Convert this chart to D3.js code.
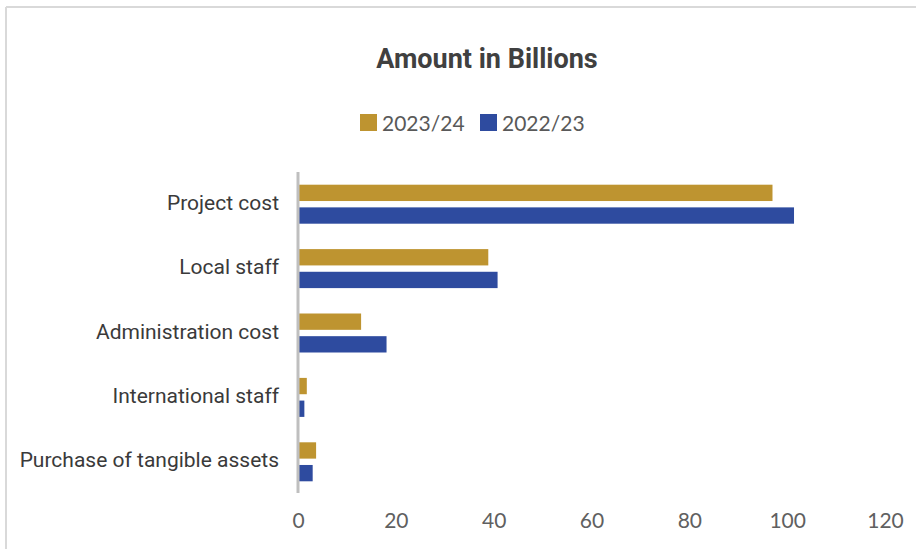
<!DOCTYPE html>
<html>
<head>
<meta charset="utf-8">
<script src="https://cdn.jsdelivr.net/npm/d3@7"></script>
<style>
  html, body { margin: 0; padding: 0; background: #ffffff; }
  svg { display: block; }
</style>
</head>
<body>
<svg id="chart" width="916" height="549"></svg>
<script>
// Spending categories, top to bottom
const categories = [
  "Project cost",
  "Local staff",
  "Administration cost",
  "International staff",
  "Purchase of tangible assets"
];
const seriesNames = ["2023/24", "2022/23"];
const values2023_24 = [97, 38.9, 12.9, 1.8, 3.7];
const values2022_23 = [101.4, 40.8, 18.1, 1.3, 3.0];
const xTicks = [0, 20, 40, 60, 80, 100, 120];
const seriesColors = ["#BE9430", "#2E4B9F"];

const svg = d3.select("#chart");
const W = 916, H = 549;

// frame lines along the top and left edge
svg.append("line").attr("x1", 6).attr("x2", W).attr("y1", 7).attr("y2", 7)
  .attr("stroke", "#d9d9d9").attr("stroke-width", 2);
svg.append("line").attr("x1", 6).attr("x2", 6).attr("y1", 7).attr("y2", H)
  .attr("stroke", "#d9d9d9").attr("stroke-width", 2);

// title
svg.append("text")
  .attr("x", 487).attr("y", 68)
  .attr("text-anchor", "middle")
  .attr("font-family", "Roboto, 'Noto Sans', sans-serif")
  .attr("font-weight", "bold")
  .attr("font-size", 27)
  .attr("fill", "#404040")
  .text("Amount in Billions");

// legend
const legendItems = [
  { name: seriesNames[0], color: seriesColors[0], x: 360 },
  { name: seriesNames[1], color: seriesColors[1], x: 480 }
];
const legend = svg.append("g");
legendItems.forEach(d => {
  legend.append("rect").attr("x", d.x).attr("y", 114).attr("width", 17).attr("height", 17)
    .attr("fill", d.color);
  legend.append("text").attr("x", d.x + 22).attr("y", 131)
    .attr("font-family", "Lato, 'Open Sans', sans-serif")
    .attr("font-size", 21)
    .attr("fill", "#595959")
    .text(d.name);
});

// scales
const x = d3.scaleLinear().domain([0, 120]).range([298, 885]);
const y = d3.scaleBand().domain(categories).range([172, 494]).paddingInner(0).paddingOuter(0);
const inner = d3.scaleBand().domain(seriesNames).range([y.bandwidth() / 2 - 19.5, y.bandwidth() / 2 + 19.5]).paddingInner(0.28);

const rows = categories.map((c, i) => ({
  category: c,
  vals: [
    { series: seriesNames[0], v: values2023_24[i], color: seriesColors[0] },
    { series: seriesNames[1], v: values2022_23[i], color: seriesColors[1] }
  ]
}));

// bars
const groups = svg.append("g").selectAll("g").data(rows).join("g")
  .attr("transform", d => `translate(0,${y(d.category)})`);
groups.selectAll("rect").data(d => d.vals).join("rect")
  .attr("x", x(0))
  .attr("y", d => inner(d.series))
  .attr("width", d => x(d.v) - x(0))
  .attr("height", inner.bandwidth())
  .attr("fill", d => d.color);

// category axis
const yAxis = svg.append("g")
  .attr("transform", `translate(${x(0)},0)`)
  .call(d3.axisLeft(y).tickSize(0).tickPadding(19));
yAxis.select(".domain").attr("stroke", "#bfbfbf").attr("stroke-width", 3)
  .attr("d", `M0,172V493`);
yAxis.selectAll(".tick text")
  .attr("font-family", "Roboto, 'Noto Sans', sans-serif")
  .attr("font-size", 21)
  .attr("fill", "#3a3a3a")
  .attr("dy", "0.27em");

// value axis labels
const xAxis = svg.append("g")
  .attr("transform", `translate(0,511)`)
  .call(d3.axisBottom(x).tickValues(xTicks).tickSize(0).tickPadding(2));
xAxis.select(".domain").remove();
xAxis.selectAll(".tick text")
  .attr("font-family", "Lato, 'Open Sans', sans-serif")
  .attr("font-size", 21)
  .attr("fill", "#606060");
</script>
</body>
</html>
